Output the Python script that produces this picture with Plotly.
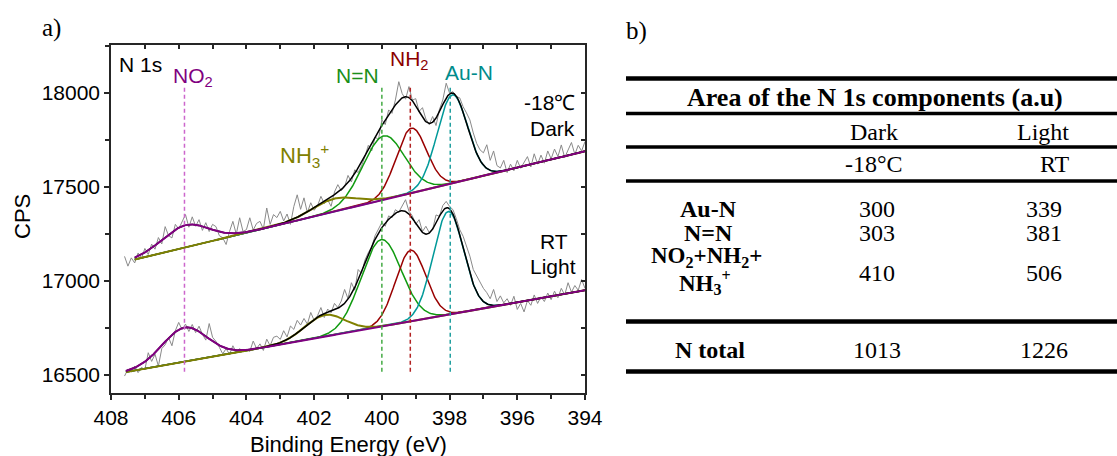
import numpy as np
import plotly.graph_objects as go

W, H = 1117, 456

# ---------------- data ----------------
# binding-energy grid of the measured spectra (eV)
energy = np.round(np.arange(407.6, 393.95, -0.1), 1)

# measured counts, "-18 C Dark" (upper) spectrum
cps_dark = [17130, 17078, 17122, 17095, 17148, 17120, 17172, 17140, 17195, 17168,
            17230, 17196, 17288, 17240, 17228, 17300, 17276, 17318, 17352, 17285,
            17340, 17290, 17325, 17268, 17309, 17262, 17300, 17288, 17240, 17229,
            17193, 17262, 17316, 17248, 17335, 17262, 17272, 17335, 17270, 17305,
            17316, 17275, 17387, 17300, 17352, 17336, 17369, 17318, 17355, 17300,
            17395, 17457, 17380, 17441, 17362, 17415, 17375, 17398, 17449, 17410,
            17430, 17396, 17472, 17511, 17478, 17500, 17560, 17525, 17590, 17575,
            17611, 17660, 17720, 17690, 17765, 17750, 17855, 17830, 17908, 17890,
            17961, 18058, 17995, 17965, 18032, 17960, 17968, 17900, 17920, 17860,
            17830, 17873, 17825, 17910, 17961, 18050, 17997, 18005, 17979, 17972,
            17925, 17892, 17855, 17786, 17730, 17696, 17680, 17723, 17640, 17690,
            17612, 17600, 17640, 17575, 17620, 17585, 17640, 17598, 17630, 17660,
            17605, 17675, 17620, 17668, 17625, 17690, 17648, 17700, 17660, 17722,
            17655, 17700, 17735, 17672, 17720, 17690, 17740]

# measured counts, "RT Light" (lower) spectrum
cps_light = [16494, 16530, 16515, 16547, 16512, 16540, 16528, 16618, 16572, 16610,
             16547, 16640, 16660, 16699, 16655, 16735, 16779, 16740, 16770, 16731,
             16768, 16725, 16759, 16716, 16685, 16773, 16700, 16678, 16647, 16612,
             16640, 16609, 16655, 16620, 16640, 16622, 16636, 16625, 16680, 16640,
             16665, 16630, 16690, 16655, 16700, 16706, 16689, 16735, 16702, 16760,
             16742, 16790, 16765, 16800, 16770, 16832, 16790, 16815, 16858, 16805,
             16850, 16830, 16880, 16858, 16892, 16954, 16905, 16990, 16950, 17060,
             17040, 17110, 17150, 17180, 17240, 17272, 17310, 17290, 17345, 17335,
             17378, 17365, 17400, 17431, 17370, 17345, 17300, 17325, 17262, 17290,
             17256, 17272, 17350, 17343, 17400, 17422, 17395, 17378, 17330, 17272,
             17237, 17180, 17131, 17060, 17025, 16990, 16960, 16937, 16905, 16954,
             16890, 16920, 16883, 16905, 16870, 16918, 16848, 16880, 16835, 16895,
             16870, 16925, 16880, 16915, 16890, 16935, 16900, 16945, 16910, 16960,
             16925, 16990, 16940, 16975, 16950, 17007, 16960]

# fitted components (Gaussian peaks on a linear background)
components = ["NO2", "NH3+", "N=N", "NH2", "Au-N"]
dark_center = [405.8, 401.4, 399.95, 399.13, 397.92]
dark_height = [118, 69, 339, 345, 469]
dark_fwhm = [1.6, 1.55, 1.45, 1.05, 1.05]
dark_bg = [407.3, 17113, 394.0, 17688]      # E_start, CPS_start, E_end, CPS_end

light_center = [405.83, 401.69, 400.02, 399.15, 398.04]
light_height = [181, 115, 462, 377, 548]
light_fwhm = [1.55, 1.4, 1.4, 1.05, 1.05]
light_bg = [407.56, 16515, 394.0, 16950]

# peak position markers
marker_names = ["NO2", "N=N", "NH2", "Au-N"]
marker_pos = [405.83, 400.0, 399.16, 397.98]
marker_span = [16517, 18030]

# table
table_cols = ["Dark", "Light"]
table_cond = ["-18°C", "RT"]
row_labels = ["Au-N", "N=N"]
dark_area = [300, 303, 410]
light_area = [339, 381, 506]
total_area = [1013, 1226]

# ---------------- styles ----------------
comp_color = {"NO2": "#800080", "NH3+": "#808000", "N=N": "#109a10",
              "NH2": "#990000", "Au-N": "#009999"}
marker_color = {"NO2": "#cc66cc", "N=N": "#44aa44", "NH2": "#b22222", "Au-N": "#22a0a0"}
SANS = "Liberation Sans, Arial, sans-serif"
SERIF = "Liberation Serif, Times New Roman, serif"


def gauss(E, c, h, w):
    return h * np.exp(-4 * np.log(2) * ((E - c) / w) ** 2)


fig = go.Figure()


def add_spectrum(raw, centers, heights, fwhms, bg):
    fig.add_trace(go.Scatter(x=energy, y=raw, mode="lines",
                             line=dict(color="#8a8a8a", width=1), hoverinfo="skip"))
    E = np.linspace(bg[0], bg[2], 700)
    base = bg[1] + (bg[3] - bg[1]) * (bg[0] - E) / (bg[0] - bg[2])
    peaks = {n: gauss(E, c, h, w) for n, c, h, w in zip(components, centers, heights, fwhms)}
    for n in ["N=N", "NH2", "Au-N", "NH3+"]:
        fig.add_trace(go.Scatter(x=E, y=base + peaks[n], mode="lines",
                                 line=dict(color=comp_color[n], width=2 if n == "NH3+" else 1.5),
                                 hoverinfo="skip"))
    env = base + sum(peaks.values())
    fig.add_trace(go.Scatter(x=E, y=env, mode="lines", line=dict(color="black", width=1.5),
                             hoverinfo="skip"))
    fig.add_trace(go.Scatter(x=E, y=base + peaks["NO2"], mode="lines",
                             line=dict(color=comp_color["NO2"], width=2), hoverinfo="skip"))


add_spectrum(cps_dark, dark_center, dark_height, dark_fwhm, dark_bg)
add_spectrum(cps_light, light_center, light_height, light_fwhm, light_bg)

# dummy trace for the overlay (mirror) axes
fig.add_trace(go.Scatter(x=[None], y=[None], xaxis="x2", yaxis="y2", mode="lines",
                         hoverinfo="skip"))

for n, xpos in zip(marker_names, marker_pos):
    fig.add_shape(type="line", xref="x", yref="y", x0=xpos, x1=xpos,
                  y0=marker_span[0], y1=marker_span[1],
                  line=dict(color=marker_color[n], width=1.5, dash="4px,3px"))

# ---------------- layout ----------------
xdom = [111 / W, 585 / W]
ydom = [1 - 393 / H, 1 - 45 / H]
xr = [408, 394]
yr = [16404, 18253]
axcol = "#262626"

fig.update_layout(
    width=W, height=H, margin=dict(l=0, r=0, t=0, b=0, autoexpand=False),
    paper_bgcolor="white", plot_bgcolor="white", showlegend=False,
    xaxis=dict(domain=xdom, range=xr, tickmode="linear", tick0=394, dtick=2,
               automargin=False,
               ticks="outside", ticklen=5, tickwidth=1.5, tickcolor=axcol,
               minor=dict(dtick=1, ticks="outside", ticklen=4, tickwidth=1.5, tickcolor=axcol),
               showline=True, linecolor=axcol, linewidth=1.5, mirror=True,
               showgrid=False, zeroline=False,
               tickfont=dict(family=SANS, size=21, color="black")),
    yaxis=dict(domain=ydom, range=yr, tickmode="linear", tick0=16500, dtick=500,
               automargin=False, tickformat="d",
               ticks="outside", ticklen=5, tickwidth=1.5, tickcolor=axcol,
               minor=dict(dtick=250, ticks="outside", ticklen=4, tickwidth=1.5, tickcolor=axcol),
               showline=True, linecolor=axcol, linewidth=1.5, mirror=True,
               showgrid=False, zeroline=False,
               tickfont=dict(family=SANS, size=21, color="black")),
    xaxis2=dict(overlaying="x", side="top", anchor="y", range=xr, tickmode="linear",
                automargin=False,
                tick0=394, dtick=1, ticks="inside", ticklen=4, tickwidth=1.5, tickcolor=axcol,
                showticklabels=False, showline=False, showgrid=False, zeroline=False),
    yaxis2=dict(overlaying="y", side="right", anchor="x", range=yr, tickmode="linear",
                automargin=False,
                tick0=16500, dtick=250, ticks="inside", ticklen=4, tickwidth=1.5, tickcolor=axcol,
                showticklabels=False, showline=False, showgrid=False, zeroline=False),
)


def ann(text, x, y, size=21, color="black", family=SANS, xanchor="center", yanchor="middle",
        angle=0):
    fig.add_annotation(text=text, x=x / W, y=1 - y / H, xref="paper", yref="paper",
                       showarrow=False, xanchor=xanchor, yanchor=yanchor, textangle=angle,
                       font=dict(family=family, size=size, color=color))


# axis titles
ann("Binding Energy (eV)", 348, 444, size=22)
ann("CPS", 22, 217, size=22, angle=-90)

# panel letters
ann("a)", 51, 28, size=25, family=SERIF)
ann("b)", 636, 31, size=25, family=SERIF)

# plot labels
ann("N 1s", 117, 64, xanchor="left")
ann("NO<sub>2</sub>", 171, 77, color=comp_color["NO2"], xanchor="left")
ann("N=N", 357, 76, color="#1a8f1a")
ann("NH<sub>2</sub>", 388, 60, color="#8b0000", xanchor="left")
ann("Au-N", 469, 72, color="#008b8b")
ann("NH<sub>3</sub><sup>+</sup>", 278, 156, size=22, color=comp_color["NH3+"], xanchor="left")
ann("-18℃", 577, 103, xanchor="right")
ann("Dark", 577, 128, xanchor="right")
ann("RT", 554, 241)
ann("Light", 553, 266)

# ---------------- table ----------------
def hline(y, w):
    fig.add_shape(type="line", xref="paper", yref="paper", x0=626 / W, x1=1.0,
                  y0=1 - y / H, y1=1 - y / H, line=dict(color="black", width=w))


hline(78.5, 4.5)
hline(113.5, 3.5)
hline(147, 3.5)
hline(181, 3.5)
hline(321.5, 4.5)
hline(371.5, 4.5)

TS = 24
colx = [874, 1043]
ann("<b>Area of the N 1s components (a.u)</b>", 875, 97, size=26, family=SERIF)
for cx, t in zip(colx, table_cols):
    ann(t, cx, 132, size=TS, family=SERIF)
ann(table_cond[0], 874, 164, size=TS, family=SERIF)
ann(table_cond[1], 1055, 164, size=TS, family=SERIF)

row_y = [209, 233]
for lab, ry in zip(row_labels, row_y):
    ann("<b>%s</b>" % lab, 708, ry, size=TS, family=SERIF)
ann("<b>NO<sub>2</sub>+NH<sub>2</sub>+</b>", 706, 257, size=23, family=SERIF)
ann("<b>NH<sub>3</sub><sup>+</sup></b>", 705, 282, size=23, family=SERIF)
row_yv = [209, 233, 273]
for v, ry in zip(dark_area, row_yv):
    ann(str(v), 877, ry, size=TS, family=SERIF)
for v, ry in zip(light_area, row_yv):
    ann(str(v), 1044, ry, size=TS, family=SERIF)
ann("<b>N total</b>", 710, 350, size=TS, family=SERIF)
ann(str(total_area[0]), 877, 350, size=TS, family=SERIF)
ann(str(total_area[1]), 1044, 350, size=TS, family=SERIF)

fig.write_html("out.html", config={"displayModeBar": False},
               post_script="document.body.style.margin='0px';")
